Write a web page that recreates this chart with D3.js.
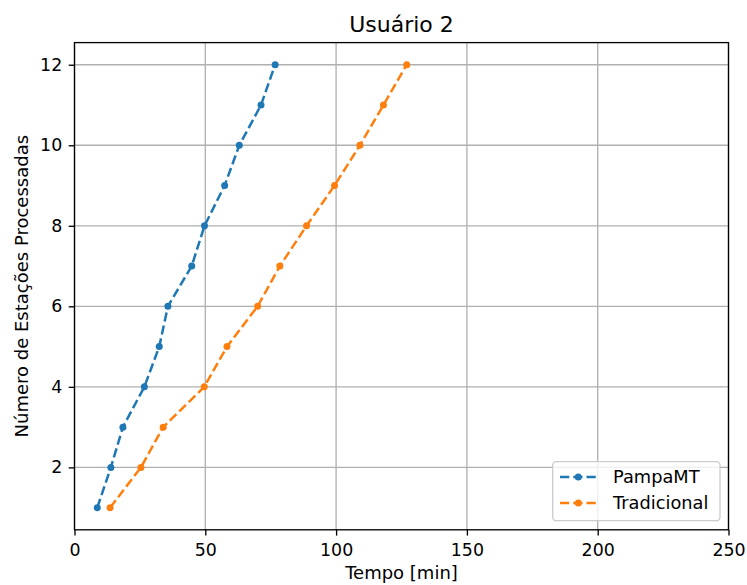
<!DOCTYPE html>
<html>
<head>
<meta charset="utf-8">
<script src="https://cdn.jsdelivr.net/npm/d3@7"></script>
<style>
  html, body { margin: 0; padding: 0; background: #fff; }
  svg { display: block; }
  text { font-family: "DejaVu Sans", sans-serif; fill: #000; }
</style>
</head>
<body>
<svg id="chart" width="747" height="585"></svg>
<script>
const title = "Usuário 2";
const xLabel = "Tempo [min]";
const yLabel = "Número de Estações Processadas";
const stations = [1, 2, 3, 4, 5, 6, 7, 8, 9, 10, 11, 12];
const pampaMT = [8.7, 13.9, 18.5, 26.7, 32.4, 35.7, 44.8, 49.7, 57.4, 63.0, 71.3, 76.7];
const tradicional = [13.6, 25.4, 33.9, 49.6, 58.3, 70.0, 78.5, 88.7, 99.4, 109.1, 118.1, 127.0];
const seriesNames = ["PampaMT", "Tradicional"];
const seriesColors = ["#1f77b4", "#ff7f0e"];
const xTicks = [0, 50, 100, 150, 200, 250];
const yTicks = [2, 4, 6, 8, 10, 12];

const FS = 17.4;
const L = 74.5, R = 728.5, T = 42.6, B = 529.8;
const svg = d3.select("#chart");
const x = d3.scaleLinear().domain([0, 250]).range([L, R]);
const y = d3.scaleLinear().domain([0.45, 12.55]).range([B, T]);

// grid
const grid = svg.append("g");
grid.selectAll(".gx").data(xTicks).join("line")
  .attr("x1", d => x(d)).attr("x2", d => x(d)).attr("y1", T).attr("y2", B)
  .attr("stroke", "#b0b0b0").attr("stroke-width", 1.33);
grid.selectAll(".gy").data(yTicks).join("line")
  .attr("y1", d => y(d)).attr("y2", d => y(d)).attr("x1", L).attr("x2", R)
  .attr("stroke", "#b0b0b0").attr("stroke-width", 1.33);

// lines
const data = [pampaMT, tradicional];
const line = d3.line().x(d => x(d[0])).y(d => y(d[1]));
data.forEach((vals, i) => {
  const pts = vals.map((v, j) => [v, stations[j]]);
  svg.append("path").datum(pts).attr("d", line)
    .attr("fill", "none").attr("stroke", seriesColors[i])
    .attr("stroke-width", 2.5).attr("stroke-dasharray", "9.25,4");
  svg.append("g").selectAll("circle").data(pts).join("circle")
    .attr("cx", d => x(d[0])).attr("cy", d => y(d[1])).attr("r", 3.5)
    .attr("fill", seriesColors[i]);
});

// axes
const xAxis = d3.axisBottom(x).tickValues(xTicks).tickSizeOuter(0).tickSize(5.8).tickPadding(8.5);
const yAxis = d3.axisLeft(y).tickValues(yTicks).tickSizeOuter(0).tickSize(5.8).tickPadding(6.5);
const gx = svg.append("g").attr("transform", `translate(0,${B})`).call(xAxis);
const gy = svg.append("g").attr("transform", `translate(${L},0)`).call(yAxis);
[gx, gy].forEach(g => {
  g.select(".domain").remove();
  g.selectAll(".tick line").attr("stroke", "#000").attr("stroke-width", 1.33);
  g.selectAll(".tick text").style("font-family", "DejaVu Sans").style("font-size", FS + "px").attr("fill", "#000");
});

// spines
svg.append("rect").attr("x", L).attr("y", T).attr("width", R - L).attr("height", B - T)
  .attr("fill", "none").attr("stroke", "#000").attr("stroke-width", 1.33);

// title & labels
svg.append("text").attr("x", (L + R) / 2).attr("y", 31.7).attr("text-anchor", "middle")
  .style("font-size", "22px").text(title);
svg.append("text").attr("x", (L + R) / 2).attr("y", 579).attr("text-anchor", "middle")
  .style("font-size", "18px").text(xLabel);
svg.append("text").attr("transform", `translate(28,${(T + B) / 2}) rotate(-90)`)
  .attr("text-anchor", "middle").style("font-size", "18px").text(yLabel);

// legend
const lg = svg.append("g");
lg.append("rect").attr("x", 552.7).attr("y", 461.7).attr("width", 167.3).attr("height", 59)
  .attr("rx", 3.5).attr("fill", "#fff").attr("fill-opacity", 0.8)
  .attr("stroke", "#cccccc").attr("stroke-width", 1.33);
seriesNames.forEach((name, i) => {
  const cy = 477 + i * 26;
  lg.append("line").attr("x1", 560).attr("x2", 596.7).attr("y1", cy).attr("y2", cy)
    .attr("stroke", seriesColors[i]).attr("stroke-width", 2.5).attr("stroke-dasharray", "9.25,4");
  lg.append("circle").attr("cx", 578.3).attr("cy", cy).attr("r", 3.5).attr("fill", seriesColors[i]);
  lg.append("text").attr("x", 613).attr("y", cy + 6.4).style("font-size", "17.8px").text(name);
});
</script>
</body>
</html>
